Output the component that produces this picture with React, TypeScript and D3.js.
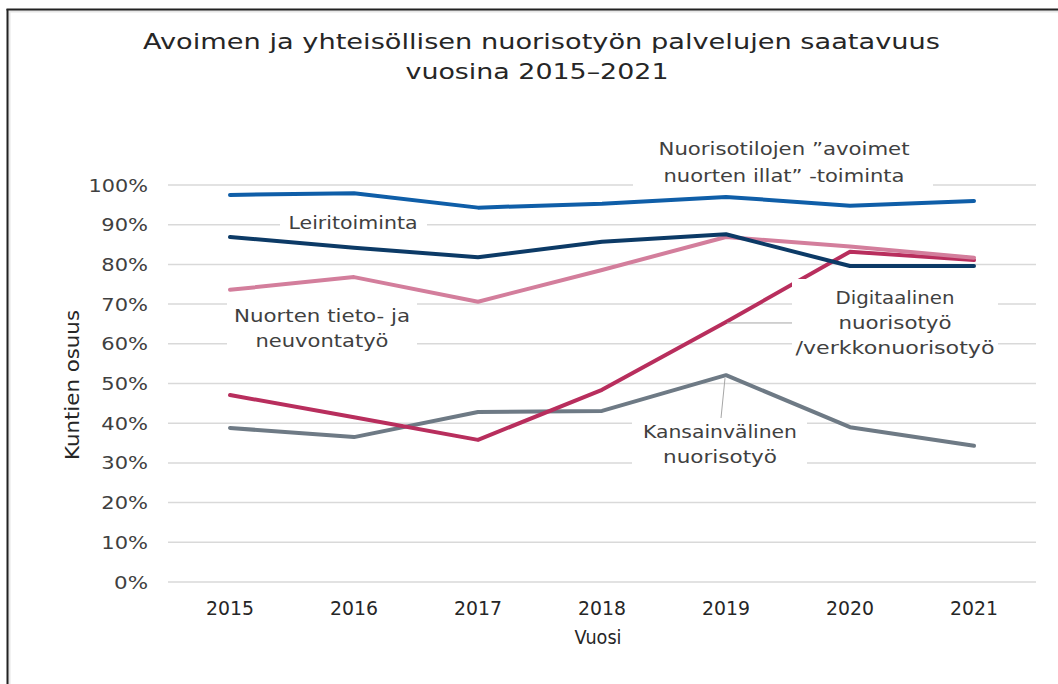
import React from "react";
import * as d3 from "d3";

const years = ["2015", "2016", "2017", "2018", "2019", "2020", "2021"];
const avoimetIllat = [97.5, 97.9, 94.3, 95.3, 97.0, 94.8, 96.0];
const leiritoiminta = [86.9, 84.2, 81.8, 85.7, 87.6, 79.6, 79.6];
const tietoNeuvonta = [73.6, 76.8, 70.6, 78.6, 86.9, 84.5, 81.7];
const digitaalinen = [47.1, 41.5, 35.8, 48.4, 65.5, 83.2, 81.1];
const kansainvalinen = [38.8, 36.5, 42.8, 43.1, 52.1, 39.0, 34.3];
const yTicks = [0, 10, 20, 30, 40, 50, 60, 70, 80, 90, 100];

const series = [
  { name: "Kansainvälinen nuorisotyö", values: kansainvalinen, color: "#6e7a85" },
  { name: "Digitaalinen nuorisotyö /verkkonuorisotyö", values: digitaalinen, color: "#b82e5d" },
  { name: "Nuorten tieto- ja neuvontatyö", values: tietoNeuvonta, color: "#d37e9c" },
  { name: "Leiritoiminta", values: leiritoiminta, color: "#0c3a66" },
  { name: "Nuorisotilojen ”avoimet nuorten illat” -toiminta", values: avoimetIllat, color: "#0f5ea8" },
];

const FONT = "'DejaVu Sans', Verdana, sans-serif";
const TEXT = "#404040";

type Lbl = { lines: string[]; lens: number[]; cx: number; base: number; step: number; box: [number, number, number, number] };

const labels: Lbl[] = [
  { lines: ["Nuorisotilojen ”avoimet", "nuorten illat” -toiminta"], lens: [251, 241], cx: 784, base: 155, step: 27, box: [633, 135, 300, 55] },
  { lines: ["Leiritoiminta"], lens: [129], cx: 353, base: 229, step: 0, box: [280, 209, 147, 26] },
  { lines: ["Nuorten tieto- ja", "neuvontatyö"], lens: [176, 133], cx: 322, base: 322, step: 25, box: [227, 300, 190, 56] },
  { lines: ["Digitaalinen", "nuorisotyö", "/verkkonuorisotyö"], lens: [119, 113, 199], cx: 895, base: 304, step: 25, box: [792, 279, 206, 83] },
  { lines: ["Kansainvälinen", "nuorisotyö"], lens: [154, 114], cx: 720, base: 438, step: 25, box: [632, 418, 175, 52] },
];

export default function App() {
  const W = 1058, H = 684;
  const x = d3.scaleBand<string>().domain(years).range([168, 1036]).padding(0);
  const cx = (yr: string) => (x(yr) as number) + x.bandwidth() / 2;
  const y = d3.scaleLinear().domain([0, 100]).range([582, 185]);
  const line = d3
    .line<number>()
    .x((_, i) => cx(years[i]))
    .y((v) => y(v));

  return (
    <svg width={W} height={H} style={{ position: "absolute", left: 0, top: 0, background: "#fff" }}>
      <rect x={0} y={0} width={W} height={H} fill="#fff" />
      {/* frame */}
      <rect x={9} y={11} width={W} height={H} fill="none" stroke="#e6e6e6" strokeWidth={3} />
      <line x1={7.5} y1={9} x2={7.5} y2={H} stroke="#222" strokeWidth={2} />
      <line x1={6.5} y1={9.5} x2={W} y2={9.5} stroke="#222" strokeWidth={2} />

      {/* title */}
      <text x={541.5} y={49} textAnchor="middle" fontFamily={FONT} fontSize={22} fill="#262626" textLength={797} lengthAdjust="spacingAndGlyphs">
        Avoimen ja yhteisöllisen nuorisotyön palvelujen saatavuus
      </text>
      <text x={537} y={79} textAnchor="middle" fontFamily={FONT} fontSize={22} fill="#262626" textLength={263} lengthAdjust="spacingAndGlyphs">
        vuosina 2015–2021
      </text>

      {/* gridlines */}
      {yTicks.map((t) => (
        <line key={t} x1={168} x2={1036} y1={y(t)} y2={y(t)} stroke="#d9d9d9" strokeWidth={1.5} />
      ))}

      {/* y tick labels */}
      {yTicks.map((t) => {
        const s = `${t}%`;
        const len = (s.length - 1) * 12.7 + 21.3;
        return (
          <text key={t} x={148} y={y(t) + 6.5} textAnchor="end" fontFamily={FONT} fontSize={18} fill={TEXT} textLength={len} lengthAdjust="spacingAndGlyphs">
            {s}
          </text>
        );
      })}

      {/* x tick labels */}
      {years.map((yr) => (
        <text key={yr} x={cx(yr)} y={615} textAnchor="middle" fontFamily={FONT} fontSize={19} fill="#262626" textLength={48} lengthAdjust="spacingAndGlyphs">
          {yr}
        </text>
      ))}

      {/* axis titles */}
      <text x={598} y={644} textAnchor="middle" fontFamily={FONT} fontSize={19} fill="#262626" textLength={47} lengthAdjust="spacingAndGlyphs">
        Vuosi
      </text>
      <text transform="translate(79,385) rotate(-90)" textAnchor="middle" fontFamily={FONT} fontSize={19} fill="#262626" textLength={150} lengthAdjust="spacingAndGlyphs">
        Kuntien osuus
      </text>

      {/* series */}
      {series.map((s) => (
        <path key={s.name} d={line(s.values) as string} fill="none" stroke={s.color} strokeWidth={4} strokeLinejoin="round" strokeLinecap="round" />
      ))}

      {/* leader lines */}
      <line x1={cx("2019") + 1} y1={y(digitaalinen[4]) + 1} x2={792} y2={y(digitaalinen[4]) + 1} stroke="#a6a6a6" strokeWidth={1} />
      <line x1={cx("2019") - 1} y1={y(kansainvalinen[4]) + 3} x2={721} y2={418} stroke="#a6a6a6" strokeWidth={1} />

      {/* data labels */}
      {labels.map((l, i) => (
        <g key={i}>
          <rect x={l.box[0]} y={l.box[1]} width={l.box[2]} height={l.box[3]} fill="#fff" />
          {l.lines.map((t, j) => (
            <text key={j} x={l.cx} y={l.base + j * l.step} textAnchor="middle" fontFamily={FONT} fontSize={18} fill={TEXT} textLength={l.lens[j]} lengthAdjust="spacingAndGlyphs">
              {t}
            </text>
          ))}
        </g>
      ))}
    </svg>
  );
}
